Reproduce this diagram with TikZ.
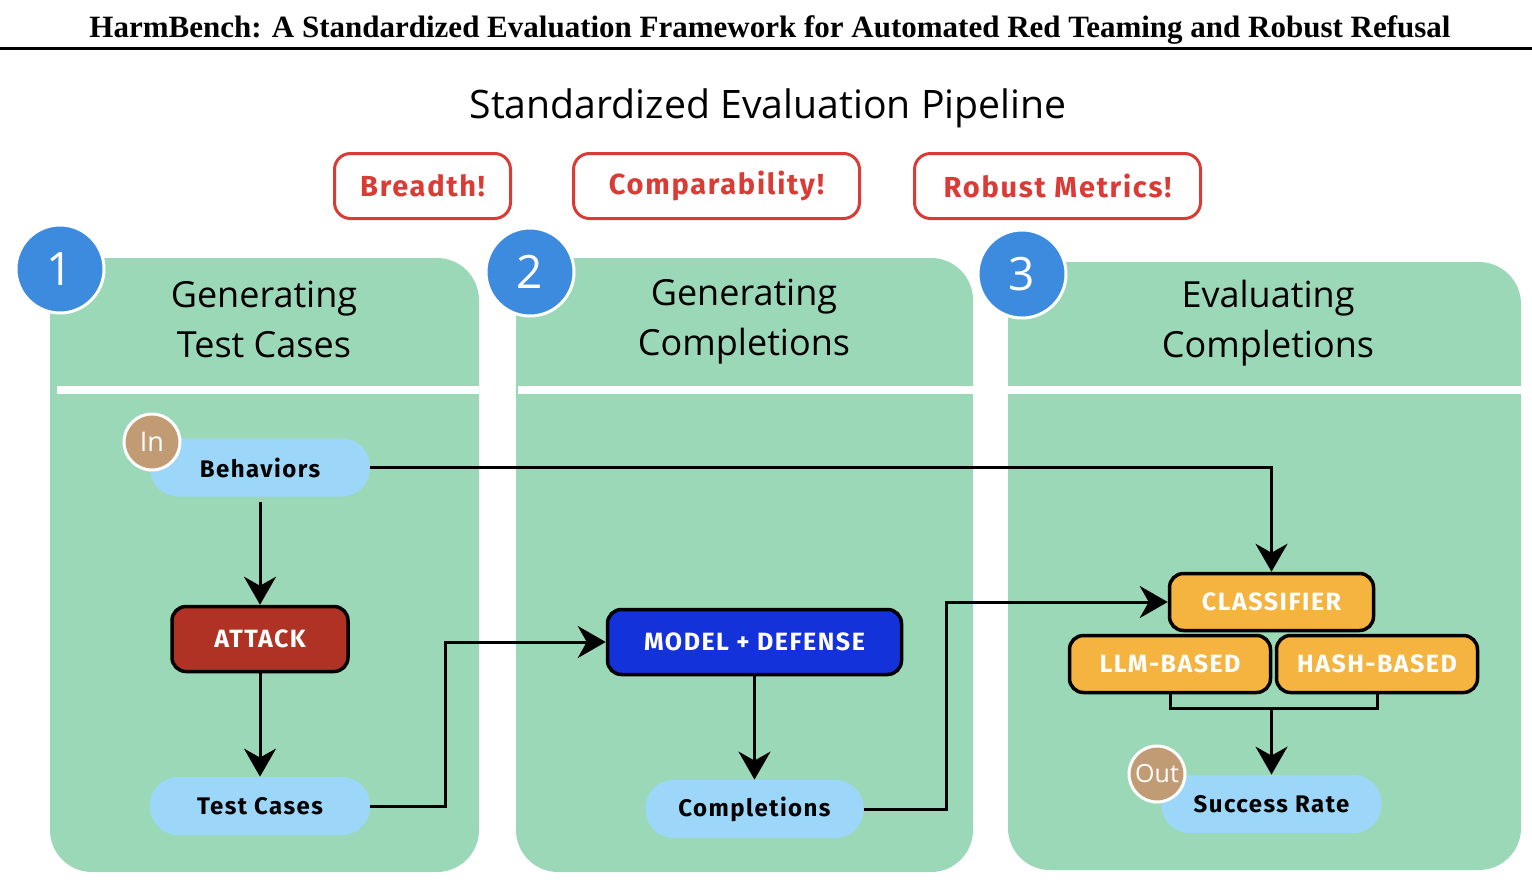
\documentclass[tikz,border=0pt]{standalone}
\usepackage{fontspec}
\setmainfont{Liberation Serif}
\newfontfamily\osans{Open Sans}
\newfontfamily\fira{Fira Sans}[LetterSpace=6]
\usetikzlibrary{arrows.meta}
\definecolor{panelgreen}{HTML}{9BD8B7}
\definecolor{circblue}{HTML}{3D8BDE}
\definecolor{pillblue}{HTML}{9CD7FA}
\definecolor{tan}{HTML}{C19B73}
\definecolor{orangebox}{HTML}{F4B43F}
\definecolor{redline}{HTML}{DB3B35}
\definecolor{attackred}{HTML}{B03224}
\definecolor{modelblue}{HTML}{1432D9}
\tikzset{
  panel/.style={fill=panelgreen},
  sepline/.style={fill=white},
  numcirc/.style={circle, fill=circblue, draw=white, line width=1.5pt, minimum size=44pt, inner sep=0pt, text=white, font=\osans\fontsize{23}{23}\selectfont},
  iocirc/.style={circle, fill=tan, draw=white, line width=1.5pt, minimum size=28pt, inner sep=0pt, text=white, font=\osans\fontsize{13.5}{13.5}\selectfont},
  pill/.style={fill=pillblue, rounded corners=14pt, minimum width=110pt, minimum height=29pt, inner sep=0pt, font=\fira\bfseries\fontsize{12}{12}\selectfont},
  procbox/.style={draw=black, line width=1.75pt, rounded corners=7pt, inner sep=0pt, text=white, font=\fira\bfseries\fontsize{12.5}{12.5}\selectfont},
  goalbox/.style={draw=redline, line width=1.5pt, fill=white, rounded corners=8pt, minimum height=32.5pt, inner sep=0pt, text=redline, font=\fira\bfseries\fontsize{14.5}{14.5}\selectfont},
  ptitle/.style={align=center, font=\osans\fontsize{18}{25}\selectfont},
  conn/.style={line width=1.5pt, draw=black},
  arr/.style={conn, -{Stealth[length=14pt, width=16pt, inset=4.5pt]}}
}
\begin{document}
\begin{tikzpicture}[x=0.5pt,y=-0.5pt]
\useasboundingbox (0,0) rectangle (1532,884);
% header
\node (hdr) at (770,30) {\fontsize{15.5}{15.5}\selectfont\bfseries HarmBench: A Standardized Evaluation Framework for Automated Red Teaming and Robust Refusal};
\fill (0,46.5) rectangle (1532,49.5);
\node (pipe) at (768,108) {\osans\fontsize{19.6}{19.6}\selectfont Standardized Evaluation Pipeline};
% goals
\node[goalbox, minimum width=88pt] (g1) at (422.5,186) {Breadth!};
\node[goalbox, minimum width=143pt] (g2) at (716.5,186) {Comparability!};
\node[goalbox, minimum width=143pt] (g3) at (1057.5,186) {Robust Metrics!};
% panels
\fill[panel, rounded corners=21pt] (50,258) rectangle (479,872);
\fill[panel] (50,258) rectangle (110,318);
\fill[panel, rounded corners=21pt] (516,258) rectangle (973,872);
\fill[panel] (516,258) rectangle (576,318);
\fill[panel, rounded corners=21pt] (1008,262) rectangle (1521,870);
\fill[panel] (1008,262) rectangle (1068,322);
\fill[sepline] (57,386) rectangle (479,393.5);
\fill[sepline] (518,386) rectangle (973,393.5);
\fill[sepline] (1008,386) rectangle (1521,393.5);
% numbers
\node[numcirc] (n1) at (60,269) {1};
\node[numcirc] (n2) at (530,272) {2};
\node[numcirc] (n3) at (1022,274) {3};
% panel titles
\node[ptitle] (t1) at (264,319) {Generating\\Test Cases};
\node[ptitle] (t2) at (744,322) {Generating\\Completions};
\node[ptitle] (t3) at (1268,323) {Evaluating\\Completions};
% nodes
\node[pill] (beh) at (260,467.5) {Behaviors};
\node[iocirc] (in) at (152,442) {In};
\node[procbox, fill=attackred, minimum width=88pt, minimum height=32.5pt] (att) at (260,639) {ATTACK};
\node[pill] (tc) at (260,806) {Test Cases};
\node[procbox, fill=modelblue, minimum width=147pt, minimum height=32.5pt] (md) at (754.5,642) {MODEL + DEFENSE};
\node[pill, minimum width=109pt] (comp) at (754.5,809) {Completions};
\node[procbox, fill=orangebox, minimum width=102pt, minimum height=28.5pt] (cls) at (1271.5,602) {CLASSIFIER};
\node[procbox, fill=orangebox, minimum width=100.5pt, minimum height=28.5pt] (llm) at (1170,664) {LLM-BASED};
\node[procbox, fill=orangebox, minimum width=100.5pt, minimum height=28.5pt] (hash) at (1377,664) {HASH-BASED};
\node[pill] (sr) at (1271.5,804) {Success Rate};
\node[iocirc, font=\osans\fontsize{12.5}{12.5}\selectfont] (out) at (1157,774) {Out};
% connectors
\draw[arr] (beh.east) -| (cls.north);
\draw[arr, shorten <=2.5pt] (beh.south) -- (att.north);
\draw[arr] (att.south) -- (tc.north);
\draw[arr] (tc.east) -- ++(75,0) |- (md.west);
\draw[arr] (md.south) -- (comp.north);
\draw[arr] (comp.east) -- ++(83,0) |- (cls.west);
\coordinate (brk) at (1271.5,708);
\draw[conn] (llm.south) |- (brk) -| (hash.south);
\draw[arr] (brk) -- (sr.north);
\end{tikzpicture}
\end{document}
